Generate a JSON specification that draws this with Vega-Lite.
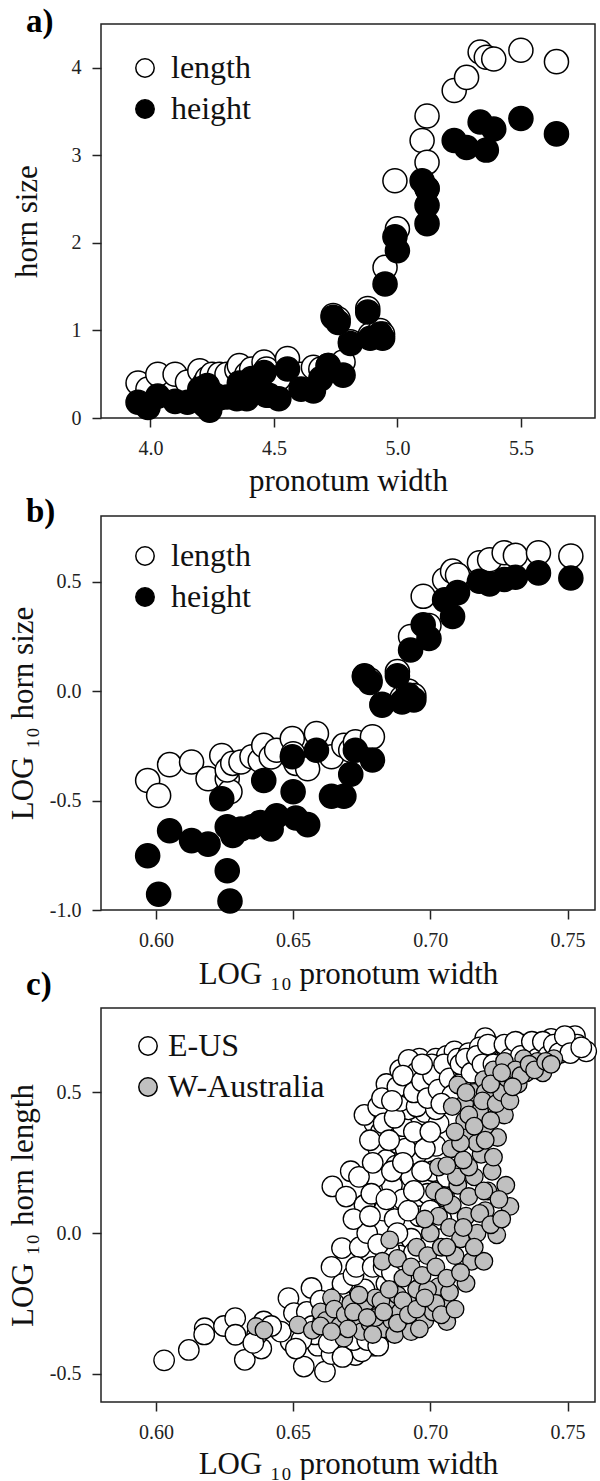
{
"$schema": "https://vega.github.io/schema/vega-lite/v6.json",
"padding": {"left": 6, "top": 5, "right": 0, "bottom": 0},
"background": "white",
"bounds": "flush",
"spacing": 98,
"config": {
  "font": "Liberation Serif",
  "view": {"stroke": "#222", "strokeWidth": 1.5},
  "axis": {"grid": false, "domain": false, "tickColor": "#222", "tickWidth": 1.5, "tickSize": 9, "labelFontSize": 20, "labelColor": "#222", "labelPadding": 11, "titleFontSize": 31, "titleFontWeight": "normal", "titleColor": "#111", "labelFont": "Liberation Serif", "titleFont": "Liberation Serif", "labelExpr": "replace(datum.label, '−', '-')"},
  "legend": {"orient": "none", "title": null, "labelFontSize": 32, "labelFont": "Liberation Serif", "labelColor": "#111", "symbolSize": 340, "symbolStrokeWidth": 1.5, "symbolStrokeColor": "black", "symbolType": "circle", "labelOffset": 10, "rowPadding": 9, "padding": 0},
  "title": {"fontSize": 33, "fontWeight": "bold", "anchor": "start", "frame": "group", "dx": -75, "offset": -15, "baseline": "alphabetic", "color": "black", "font": "Liberation Serif"}
},
"resolve": {"scale": {"x": "independent", "y": "independent", "fill": "independent"}, "legend": {"fill": "independent"}},
"datasets": {
  "a": [
    {"x":3.95,"y":0.40,"t":"length"},{"x":3.99,"y":0.33,"t":"length"},{"x":4.03,"y":0.50,"t":"length"},{"x":4.10,"y":0.50,"t":"length"},{"x":4.15,"y":0.41,"t":"length"},{"x":4.20,"y":0.54,"t":"length"},{"x":4.22,"y":0.40,"t":"length"},{"x":4.24,"y":0.35,"t":"length"},{"x":4.23,"y":0.45,"t":"length"},{"x":4.25,"y":0.50,"t":"length"},{"x":4.28,"y":0.50,"t":"length"},{"x":4.31,"y":0.50,"t":"length"},{"x":4.35,"y":0.55,"t":"length"},{"x":4.36,"y":0.60,"t":"length"},{"x":4.39,"y":0.50,"t":"length"},{"x":4.41,"y":0.56,"t":"length"},{"x":4.46,"y":0.64,"t":"length"},{"x":4.47,"y":0.56,"t":"length"},{"x":4.48,"y":0.47,"t":"length"},{"x":4.52,"y":0.45,"t":"length"},{"x":4.555,"y":0.68,"t":"length"},{"x":4.61,"y":0.50,"t":"length"},{"x":4.66,"y":0.58,"t":"length"},{"x":4.69,"y":0.56,"t":"length"},{"x":4.72,"y":0.60,"t":"length"},{"x":4.78,"y":0.64,"t":"length"},{"x":4.74,"y":1.17,"t":"length"},{"x":4.76,"y":1.13,"t":"length"},{"x":4.81,"y":0.87,"t":"length"},{"x":4.88,"y":1.25,"t":"length"},{"x":4.89,"y":0.95,"t":"length"},{"x":4.93,"y":1.00,"t":"length"},{"x":4.94,"y":0.96,"t":"length"},{"x":4.95,"y":1.72,"t":"length"},{"x":4.99,"y":2.71,"t":"length"},{"x":5.00,"y":2.16,"t":"length"},{"x":5.10,"y":3.17,"t":"length"},{"x":5.12,"y":3.45,"t":"length"},{"x":5.12,"y":2.92,"t":"length"},{"x":5.12,"y":2.62,"t":"length"},{"x":5.23,"y":3.74,"t":"length"},{"x":5.28,"y":3.89,"t":"length"},{"x":5.335,"y":4.18,"t":"length"},{"x":5.36,"y":4.12,"t":"length"},{"x":5.39,"y":4.10,"t":"length"},{"x":5.50,"y":4.20,"t":"length"},{"x":5.644,"y":4.07,"t":"length"},
    {"x":3.95,"y":0.18,"t":"height"},{"x":3.99,"y":0.12,"t":"height"},{"x":4.03,"y":0.25,"t":"height"},{"x":4.10,"y":0.19,"t":"height"},{"x":4.15,"y":0.18,"t":"height"},{"x":4.20,"y":0.33,"t":"height"},{"x":4.22,"y":0.15,"t":"height"},{"x":4.24,"y":0.09,"t":"height"},{"x":4.23,"y":0.37,"t":"height"},{"x":4.25,"y":0.22,"t":"height"},{"x":4.28,"y":0.23,"t":"height"},{"x":4.31,"y":0.24,"t":"height"},{"x":4.35,"y":0.22,"t":"height"},{"x":4.36,"y":0.40,"t":"height"},{"x":4.39,"y":0.22,"t":"height"},{"x":4.41,"y":0.45,"t":"height"},{"x":4.46,"y":0.52,"t":"height"},{"x":4.47,"y":0.26,"t":"height"},{"x":4.48,"y":0.26,"t":"height"},{"x":4.52,"y":0.22,"t":"height"},{"x":4.555,"y":0.56,"t":"height"},{"x":4.61,"y":0.33,"t":"height"},{"x":4.66,"y":0.31,"t":"height"},{"x":4.69,"y":0.45,"t":"height"},{"x":4.72,"y":0.60,"t":"height"},{"x":4.78,"y":0.49,"t":"height"},{"x":4.74,"y":1.15,"t":"height"},{"x":4.76,"y":1.09,"t":"height"},{"x":4.81,"y":0.85,"t":"height"},{"x":4.88,"y":1.21,"t":"height"},{"x":4.89,"y":0.91,"t":"height"},{"x":4.93,"y":0.96,"t":"height"},{"x":4.94,"y":0.91,"t":"height"},{"x":4.95,"y":1.53,"t":"height"},{"x":4.99,"y":2.07,"t":"height"},{"x":5.00,"y":1.91,"t":"height"},{"x":5.10,"y":2.71,"t":"height"},{"x":5.12,"y":2.62,"t":"height"},{"x":5.12,"y":2.43,"t":"height"},{"x":5.12,"y":2.22,"t":"height"},{"x":5.23,"y":3.17,"t":"height"},{"x":5.28,"y":3.09,"t":"height"},{"x":5.335,"y":3.38,"t":"height"},{"x":5.36,"y":3.06,"t":"height"},{"x":5.39,"y":3.30,"t":"height"},{"x":5.50,"y":3.42,"t":"height"},{"x":5.644,"y":3.245,"t":"height"}
  ],
  "b": [
    {"x":0.597,"y":-0.408,"t":"length"},{"x":0.601,"y":-0.477,"t":"length"},{"x":0.605,"y":-0.336,"t":"length"},{"x":0.613,"y":-0.324,"t":"length"},{"x":0.619,"y":-0.400,"t":"length"},{"x":0.624,"y":-0.294,"t":"length"},{"x":0.626,"y":-0.400,"t":"length"},{"x":0.627,"y":-0.46,"t":"length"},{"x":0.626,"y":-0.36,"t":"length"},{"x":0.628,"y":-0.33,"t":"length"},{"x":0.631,"y":-0.324,"t":"length"},{"x":0.635,"y":-0.30,"t":"length"},{"x":0.638,"y":-0.317,"t":"length"},{"x":0.6393,"y":-0.248,"t":"length"},{"x":0.642,"y":-0.301,"t":"length"},{"x":0.644,"y":-0.27,"t":"length"},{"x":0.6497,"y":-0.217,"t":"length"},{"x":0.650,"y":-0.286,"t":"length"},{"x":0.651,"y":-0.33,"t":"length"},{"x":0.6553,"y":-0.355,"t":"length"},{"x":0.6585,"y":-0.194,"t":"length"},{"x":0.664,"y":-0.30,"t":"length"},{"x":0.6685,"y":-0.248,"t":"length"},{"x":0.671,"y":-0.27,"t":"length"},{"x":0.6727,"y":-0.232,"t":"length"},{"x":0.6789,"y":-0.209,"t":"length"},{"x":0.676,"y":0.07,"t":"length"},{"x":0.678,"y":0.05,"t":"length"},{"x":0.6824,"y":-0.06,"t":"length"},{"x":0.688,"y":0.089,"t":"length"},{"x":0.6897,"y":-0.03,"t":"length"},{"x":0.692,"y":0.0,"t":"length"},{"x":0.694,"y":-0.02,"t":"length"},{"x":0.6928,"y":0.249,"t":"length"},{"x":0.6974,"y":0.433,"t":"length"},{"x":0.6995,"y":0.30,"t":"length"},{"x":0.7052,"y":0.509,"t":"length"},{"x":0.7081,"y":0.548,"t":"length"},{"x":0.7099,"y":0.53,"t":"length"},{"x":0.7179,"y":0.586,"t":"length"},{"x":0.7216,"y":0.60,"t":"length"},{"x":0.7269,"y":0.632,"t":"length"},{"x":0.731,"y":0.62,"t":"length"},{"x":0.7394,"y":0.632,"t":"length"},{"x":0.7512,"y":0.617,"t":"length"},
    {"x":0.597,"y":-0.752,"t":"height"},{"x":0.601,"y":-0.928,"t":"height"},{"x":0.605,"y":-0.638,"t":"height"},{"x":0.613,"y":-0.683,"t":"height"},{"x":0.619,"y":-0.699,"t":"height"},{"x":0.624,"y":-0.492,"t":"height"},{"x":0.626,"y":-0.821,"t":"height"},{"x":0.627,"y":-0.959,"t":"height"},{"x":0.626,"y":-0.62,"t":"height"},{"x":0.628,"y":-0.66,"t":"height"},{"x":0.631,"y":-0.63,"t":"height"},{"x":0.635,"y":-0.62,"t":"height"},{"x":0.638,"y":-0.60,"t":"height"},{"x":0.6393,"y":-0.408,"t":"height"},{"x":0.642,"y":-0.63,"t":"height"},{"x":0.644,"y":-0.57,"t":"height"},{"x":0.6497,"y":-0.30,"t":"height"},{"x":0.650,"y":-0.46,"t":"height"},{"x":0.651,"y":-0.58,"t":"height"},{"x":0.6553,"y":-0.61,"t":"height"},{"x":0.6585,"y":-0.27,"t":"height"},{"x":0.664,"y":-0.48,"t":"height"},{"x":0.6685,"y":-0.48,"t":"height"},{"x":0.671,"y":-0.38,"t":"height"},{"x":0.6727,"y":-0.27,"t":"height"},{"x":0.6789,"y":-0.315,"t":"height"},{"x":0.676,"y":0.066,"t":"height"},{"x":0.678,"y":0.04,"t":"height"},{"x":0.6824,"y":-0.064,"t":"height"},{"x":0.688,"y":0.07,"t":"height"},{"x":0.6897,"y":-0.05,"t":"height"},{"x":0.692,"y":-0.018,"t":"height"},{"x":0.694,"y":-0.04,"t":"height"},{"x":0.6928,"y":0.188,"t":"height"},{"x":0.6974,"y":0.303,"t":"height"},{"x":0.6995,"y":0.24,"t":"height"},{"x":0.7052,"y":0.417,"t":"height"},{"x":0.7081,"y":0.341,"t":"height"},{"x":0.7099,"y":0.45,"t":"height"},{"x":0.7179,"y":0.502,"t":"height"},{"x":0.7216,"y":0.49,"t":"height"},{"x":0.7269,"y":0.51,"t":"height"},{"x":0.731,"y":0.52,"t":"height"},{"x":0.7394,"y":0.54,"t":"height"},{"x":0.7512,"y":0.517,"t":"height"}
  ],
  "c": [
    {"x":0.603,"y":-0.452,"r":"E-US"},{"x":0.612,"y":-0.415,"r":"E-US"},{"x":0.6178,"y":-0.338,"r":"E-US"},{"x":0.6176,"y":-0.36,"r":"E-US"},{"x":0.6248,"y":-0.33,"r":"E-US"},{"x":0.6289,"y":-0.302,"r":"E-US"},{"x":0.629,"y":-0.361,"r":"E-US"},{"x":0.6324,"y":-0.45,"r":"E-US"},{"x":0.6384,"y":-0.41,"r":"E-US"},{"x":0.6393,"y":-0.314,"r":"E-US"},{"x":0.6369,"y":-0.36,"r":"E-US"},{"x":0.6355,"y":-0.39,"r":"E-US"},{"x":0.6483,"y":-0.231,"r":"E-US"},{"x":0.6503,"y":-0.284,"r":"E-US"},{"x":0.6491,"y":-0.385,"r":"E-US"},{"x":0.6455,"y":-0.35,"r":"E-US"},{"x":0.642,"y":-0.33,"r":"E-US"},
    {"x":0.6539,"y":-0.474,"r":"E-US"},{"x":0.6616,"y":-0.492,"r":"E-US"},{"x":0.6567,"y":-0.195,"r":"E-US"},{"x":0.659,"y":-0.40,"r":"E-US"},{"x":0.6727,"y":-0.433,"r":"E-US"},{"x":0.6791,"y":-0.40,"r":"E-US"},{"x":0.655,"y":-0.28,"r":"E-US"},{"x":0.657,"y":-0.33,"r":"E-US"},{"x":0.66,"y":-0.24,"r":"E-US"},{"x":0.662,"y":-0.36,"r":"E-US"},{"x":0.665,"y":-0.30,"r":"E-US"},{"x":0.667,"y":-0.22,"r":"E-US"},{"x":0.669,"y":-0.39,"r":"E-US"},{"x":0.671,"y":-0.27,"r":"E-US"},{"x":0.674,"y":-0.35,"r":"E-US"},{"x":0.676,"y":-0.20,"r":"E-US"},{"x":0.678,"y":-0.30,"r":"E-US"},{"x":0.68,"y":-0.25,"r":"E-US"},{"x":0.682,"y":-0.36,"r":"E-US"},{"x":0.684,"y":-0.18,"r":"E-US"},{"x":0.686,"y":-0.28,"r":"E-US"},{"x":0.688,"y":-0.22,"r":"E-US"},{"x":0.69,"y":-0.33,"r":"E-US"},{"x":0.692,"y":-0.16,"r":"E-US"},{"x":0.694,"y":-0.26,"r":"E-US"},{"x":0.696,"y":-0.2,"r":"E-US"},{"x":0.698,"y":-0.29,"r":"E-US"},{"x":0.7,"y":-0.14,"r":"E-US"},{"x":0.67,"y":-0.41,"r":"E-US"},{"x":0.675,"y":-0.42,"r":"E-US"},{"x":0.664,"y":-0.43,"r":"E-US"},{"x":0.668,"y":-0.18,"r":"E-US"},{"x":0.672,"y":-0.15,"r":"E-US"},
    {"x":0.665,"y":-0.25,"r":"E-US"},{"x":0.661,"y":-0.31,"r":"E-US"},{"x":0.658,"y":-0.36,"r":"E-US"},{"x":0.653,"y":-0.38,"r":"E-US"},{"x":0.651,"y":-0.41,"r":"E-US"},{"x":0.663,"y":-0.39,"r":"E-US"},{"x":0.668,"y":-0.44,"r":"E-US"},{"x":0.672,"y":-0.38,"r":"E-US"},{"x":0.677,"y":-0.38,"r":"E-US"},{"x":0.681,"y":-0.4,"r":"E-US"},{"x":0.685,"y":-0.34,"r":"E-US"},
    {"x":0.6678,"y":-0.053,"r":"E-US"},{"x":0.664,"y":-0.12,"r":"E-US"},{"x":0.6825,"y":0.012,"r":"E-US"},{"x":0.6743,"y":-0.05,"r":"E-US"},{"x":0.673,"y":-0.12,"r":"E-US"},{"x":0.679,"y":-0.12,"r":"E-US"},{"x":0.6643,"y":0.166,"r":"E-US"},{"x":0.6693,"y":0.13,"r":"E-US"},{"x":0.6796,"y":0.391,"r":"E-US"},{"x":0.681,"y":0.302,"r":"E-US"},{"x":0.6857,"y":0.44,"r":"E-US"},{"x":0.677,"y":0.0,"r":"E-US"},{"x":0.683,"y":0.08,"r":"E-US"},{"x":0.686,"y":0.17,"r":"E-US"},{"x":0.68,"y":0.2,"r":"E-US"},{"x":0.684,"y":0.26,"r":"E-US"},{"x":0.688,"y":0.32,"r":"E-US"},{"x":0.69,"y":0.38,"r":"E-US"},{"x":0.692,"y":0.44,"r":"E-US"},{"x":0.687,"y":0.05,"r":"E-US"},{"x":0.69,"y":0.12,"r":"E-US"},{"x":0.693,"y":0.2,"r":"E-US"},{"x":0.695,"y":0.28,"r":"E-US"},{"x":0.696,"y":0.35,"r":"E-US"},{"x":0.698,"y":0.43,"r":"E-US"},{"x":0.689,"y":-0.08,"r":"E-US"},{"x":0.693,"y":-0.02,"r":"E-US"},{"x":0.696,"y":0.06,"r":"E-US"},{"x":0.699,"y":0.14,"r":"E-US"},{"x":0.701,"y":0.22,"r":"E-US"},{"x":0.702,"y":0.31,"r":"E-US"},{"x":0.703,"y":0.39,"r":"E-US"},{"x":0.685,"y":-0.06,"r":"E-US"},{"x":0.676,"y":0.1,"r":"E-US"},{"x":0.672,"y":0.05,"r":"E-US"},{"x":0.671,"y":0.22,"r":"E-US"},{"x":0.6785,"y":0.14,"r":"E-US"},{"x":0.682,"y":0.36,"r":"E-US"},{"x":0.6875,"y":0.24,"r":"E-US"},{"x":0.691,"y":0.3,"r":"E-US"},{"x":0.697,"y":-0.1,"r":"E-US"},{"x":0.7,"y":-0.04,"r":"E-US"},{"x":0.704,"y":0.05,"r":"E-US"},{"x":0.705,"y":0.13,"r":"E-US"},{"x":0.706,"y":0.2,"r":"E-US"},
    {"x":0.684,"y":0.12,"r":"E-US"},{"x":0.686,"y":0.22,"r":"E-US"},{"x":0.688,"y":0.0,"r":"E-US"},{"x":0.69,"y":0.25,"r":"E-US"},{"x":0.692,"y":0.08,"r":"E-US"},{"x":0.694,"y":0.15,"r":"E-US"},{"x":0.697,"y":0.22,"r":"E-US"},{"x":0.698,"y":0.3,"r":"E-US"},{"x":0.7,"y":0.08,"r":"E-US"},{"x":0.674,"y":0.2,"r":"E-US"},{"x":0.678,"y":0.06,"r":"E-US"},{"x":0.681,"y":-0.04,"r":"E-US"},{"x":0.683,"y":-0.12,"r":"E-US"},{"x":0.686,"y":-0.14,"r":"E-US"},{"x":0.689,"y":-0.2,"r":"E-US"},{"x":0.691,"y":-0.1,"r":"E-US"},{"x":0.694,"y":-0.07,"r":"E-US"},
    {"x":0.676,"y":0.42,"r":"E-US"},{"x":0.678,"y":0.33,"r":"E-US"},{"x":0.679,"y":0.25,"r":"E-US"},{"x":0.681,"y":0.45,"r":"E-US"},{"x":0.683,"y":0.39,"r":"E-US"},{"x":0.684,"y":0.53,"r":"E-US"},{"x":0.685,"y":0.33,"r":"E-US"},{"x":0.687,"y":0.41,"r":"E-US"},{"x":0.689,"y":0.47,"r":"E-US"},{"x":0.689,"y":0.58,"r":"E-US"},{"x":0.691,"y":0.52,"r":"E-US"},{"x":0.693,"y":0.56,"r":"E-US"},{"x":0.694,"y":0.36,"r":"E-US"},{"x":0.695,"y":0.45,"r":"E-US"},{"x":0.696,"y":0.62,"r":"E-US"},{"x":0.698,"y":0.56,"r":"E-US"},{"x":0.7,"y":0.5,"r":"E-US"},{"x":0.7,"y":0.36,"r":"E-US"},{"x":0.702,"y":0.44,"r":"E-US"},{"x":0.702,"y":0.62,"r":"E-US"},{"x":0.704,"y":0.57,"r":"E-US"},{"x":0.706,"y":0.63,"r":"E-US"},{"x":0.706,"y":0.52,"r":"E-US"},{"x":0.708,"y":0.59,"r":"E-US"},{"x":0.709,"y":0.55,"r":"E-US"},
    {"x":0.6824,"y":0.48,"r":"E-US"},{"x":0.6921,"y":0.616,"r":"E-US"},{"x":0.695,"y":0.57,"r":"E-US"},{"x":0.7005,"y":0.6,"r":"E-US"},{"x":0.7088,"y":0.646,"r":"E-US"},{"x":0.72,"y":0.693,"r":"E-US"},{"x":0.734,"y":0.67,"r":"E-US"},{"x":0.744,"y":0.69,"r":"E-US"},{"x":0.7527,"y":0.70,"r":"E-US"},{"x":0.7568,"y":0.646,"r":"E-US"},{"x":0.688,"y":0.52,"r":"E-US"},{"x":0.69,"y":0.56,"r":"E-US"},{"x":0.694,"y":0.5,"r":"E-US"},{"x":0.697,"y":0.54,"r":"E-US"},{"x":0.699,"y":0.48,"r":"E-US"},{"x":0.701,"y":0.56,"r":"E-US"},{"x":0.703,"y":0.51,"r":"E-US"},{"x":0.705,"y":0.6,"r":"E-US"},{"x":0.707,"y":0.55,"r":"E-US"},{"x":0.71,"y":0.62,"r":"E-US"},{"x":0.712,"y":0.58,"r":"E-US"},{"x":0.714,"y":0.64,"r":"E-US"},{"x":0.716,"y":0.6,"r":"E-US"},{"x":0.718,"y":0.66,"r":"E-US"},{"x":0.722,"y":0.63,"r":"E-US"},{"x":0.724,"y":0.66,"r":"E-US"},{"x":0.726,"y":0.61,"r":"E-US"},{"x":0.728,"y":0.65,"r":"E-US"},{"x":0.73,"y":0.63,"r":"E-US"},{"x":0.732,"y":0.66,"r":"E-US"},{"x":0.736,"y":0.64,"r":"E-US"},{"x":0.738,"y":0.66,"r":"E-US"},{"x":0.74,"y":0.63,"r":"E-US"},{"x":0.742,"y":0.66,"r":"E-US"},{"x":0.746,"y":0.65,"r":"E-US"},{"x":0.748,"y":0.68,"r":"E-US"},{"x":0.75,"y":0.66,"r":"E-US"},{"x":0.7535,"y":0.67,"r":"E-US"},{"x":0.708,"y":0.49,"r":"E-US"},{"x":0.704,"y":0.46,"r":"E-US"},{"x":0.711,"y":0.53,"r":"E-US"},{"x":0.686,"y":0.47,"r":"E-US"},{"x":0.697,"y":0.6,"r":"E-US"},{"x":0.72,"y":0.56,"r":"E-US"},{"x":0.725,"y":0.58,"r":"E-US"},{"x":0.73,"y":0.59,"r":"E-US"},{"x":0.735,"y":0.6,"r":"E-US"},
    {"x":0.711,"y":0.6,"r":"E-US"},{"x":0.713,"y":0.62,"r":"E-US"},{"x":0.715,"y":0.57,"r":"E-US"},{"x":0.717,"y":0.63,"r":"E-US"},{"x":0.719,"y":0.6,"r":"E-US"},{"x":0.721,"y":0.67,"r":"E-US"},{"x":0.723,"y":0.6,"r":"E-US"},{"x":0.727,"y":0.67,"r":"E-US"},{"x":0.729,"y":0.62,"r":"E-US"},{"x":0.731,"y":0.68,"r":"E-US"},{"x":0.733,"y":0.63,"r":"E-US"},{"x":0.737,"y":0.68,"r":"E-US"},{"x":0.739,"y":0.62,"r":"E-US"},{"x":0.741,"y":0.68,"r":"E-US"},{"x":0.743,"y":0.63,"r":"E-US"},{"x":0.745,"y":0.67,"r":"E-US"},{"x":0.747,"y":0.64,"r":"E-US"},{"x":0.749,"y":0.7,"r":"E-US"},{"x":0.751,"y":0.64,"r":"E-US"},{"x":0.755,"y":0.66,"r":"E-US"},
    {"x":0.6365,"y":-0.332,"r":"W-Australia"},{"x":0.6394,"y":-0.345,"r":"W-Australia"},{"x":0.6518,"y":-0.326,"r":"W-Australia"},{"x":0.657,"y":-0.345,"r":"W-Australia"},{"x":0.664,"y":-0.23,"r":"W-Australia"},{"x":0.66,"y":-0.28,"r":"W-Australia"},{"x":0.6685,"y":-0.373,"r":"W-Australia"},
    {"x":0.662,"y":-0.31,"r":"W-Australia"},{"x":0.665,"y":-0.27,"r":"W-Australia"},{"x":0.667,"y":-0.33,"r":"W-Australia"},{"x":0.669,"y":-0.29,"r":"W-Australia"},{"x":0.671,"y":-0.25,"r":"W-Australia"},{"x":0.673,"y":-0.31,"r":"W-Australia"},{"x":0.675,"y":-0.35,"r":"W-Australia"},{"x":0.676,"y":-0.27,"r":"W-Australia"},{"x":0.678,"y":-0.32,"r":"W-Australia"},{"x":0.68,"y":-0.23,"r":"W-Australia"},{"x":0.681,"y":-0.29,"r":"W-Australia"},{"x":0.683,"y":-0.34,"r":"W-Australia"},{"x":0.684,"y":-0.26,"r":"W-Australia"},{"x":0.686,"y":-0.31,"r":"W-Australia"},{"x":0.688,"y":-0.22,"r":"W-Australia"},{"x":0.689,"y":-0.28,"r":"W-Australia"},{"x":0.691,"y":-0.33,"r":"W-Australia"},{"x":0.692,"y":-0.25,"r":"W-Australia"},{"x":0.694,"y":-0.3,"r":"W-Australia"},{"x":0.695,"y":-0.2,"r":"W-Australia"},{"x":0.697,"y":-0.26,"r":"W-Australia"},{"x":0.698,"y":-0.31,"r":"W-Australia"},{"x":0.7,"y":-0.23,"r":"W-Australia"},{"x":0.701,"y":-0.28,"r":"W-Australia"},{"x":0.703,"y":-0.19,"r":"W-Australia"},{"x":0.705,"y":-0.25,"r":"W-Australia"},{"x":0.706,"y":-0.314,"r":"W-Australia"},{"x":0.674,"y":-0.22,"r":"W-Australia"},{"x":0.679,"y":-0.36,"r":"W-Australia"},{"x":0.687,"y":-0.36,"r":"W-Australia"},{"x":0.693,"y":-0.35,"r":"W-Australia"},{"x":0.67,"y":-0.34,"r":"W-Australia"},
    {"x":0.68,"y":-0.3,"r":"W-Australia"},{"x":0.682,"y":-0.24,"r":"W-Australia"},{"x":0.685,"y":-0.2,"r":"W-Australia"},{"x":0.69,"y":-0.24,"r":"W-Australia"},{"x":0.696,"y":-0.34,"r":"W-Australia"},{"x":0.699,"y":-0.2,"r":"W-Australia"},{"x":0.702,"y":-0.25,"r":"W-Australia"},{"x":0.704,"y":-0.29,"r":"W-Australia"},{"x":0.707,"y":-0.21,"r":"W-Australia"},{"x":0.709,"y":-0.27,"r":"W-Australia"},{"x":0.66,"y":-0.33,"r":"W-Australia"},{"x":0.664,"y":-0.35,"r":"W-Australia"},{"x":0.672,"y":-0.28,"r":"W-Australia"},{"x":0.677,"y":-0.3,"r":"W-Australia"},{"x":0.683,"y":-0.28,"r":"W-Australia"},{"x":0.688,"y":-0.32,"r":"W-Australia"},{"x":0.692,"y":-0.29,"r":"W-Australia"},{"x":0.695,"y":-0.27,"r":"W-Australia"},{"x":0.698,"y":-0.23,"r":"W-Australia"},
    {"x":0.6852,"y":-0.024,"r":"W-Australia"},{"x":0.6825,"y":-0.1,"r":"W-Australia"},{"x":0.688,"y":-0.09,"r":"W-Australia"},{"x":0.69,"y":-0.16,"r":"W-Australia"},{"x":0.693,"y":-0.12,"r":"W-Australia"},{"x":0.695,"y":-0.05,"r":"W-Australia"},{"x":0.697,"y":-0.15,"r":"W-Australia"},{"x":0.699,"y":-0.08,"r":"W-Australia"},{"x":0.7,"y":0.0,"r":"W-Australia"},{"x":0.702,"y":-0.12,"r":"W-Australia"},{"x":0.703,"y":0.06,"r":"W-Australia"},{"x":0.704,"y":-0.05,"r":"W-Australia"},{"x":0.706,"y":-0.16,"r":"W-Australia"},{"x":0.707,"y":0.02,"r":"W-Australia"},{"x":0.708,"y":0.1,"r":"W-Australia"},{"x":0.709,"y":-0.08,"r":"W-Australia"},{"x":0.71,"y":0.17,"r":"W-Australia"},{"x":0.711,"y":-0.02,"r":"W-Australia"},{"x":0.713,"y":-0.178,"r":"W-Australia"},{"x":0.713,"y":0.06,"r":"W-Australia"},{"x":0.714,"y":0.13,"r":"W-Australia"},{"x":0.715,"y":-0.1,"r":"W-Australia"},{"x":0.716,"y":0.2,"r":"W-Australia"},{"x":0.717,"y":0.0,"r":"W-Australia"},{"x":0.7195,"y":-0.1,"r":"W-Australia"},{"x":0.72,"y":0.08,"r":"W-Australia"},{"x":0.721,"y":0.15,"r":"W-Australia"},{"x":0.7242,"y":-0.006,"r":"W-Australia"},{"x":0.729,"y":0.095,"r":"W-Australia"},{"x":0.7275,"y":0.17,"r":"W-Australia"},{"x":0.7195,"y":0.15,"r":"W-Australia"},{"x":0.7015,"y":0.15,"r":"W-Australia"},{"x":0.703,"y":0.235,"r":"W-Australia"},{"x":0.7095,"y":0.2,"r":"W-Australia"},{"x":0.714,"y":0.235,"r":"W-Australia"},{"x":0.7225,"y":0.22,"r":"W-Australia"},{"x":0.7075,"y":0.3,"r":"W-Australia"},{"x":0.7185,"y":0.28,"r":"W-Australia"},{"x":0.7145,"y":0.35,"r":"W-Australia"},{"x":0.7245,"y":0.34,"r":"W-Australia"},{"x":0.7125,"y":0.4,"r":"W-Australia"},{"x":0.727,"y":0.42,"r":"W-Australia"},{"x":0.7125,"y":0.46,"r":"W-Australia"},{"x":0.7215,"y":0.46,"r":"W-Australia"},{"x":0.71,"y":0.527,"r":"W-Australia"},{"x":0.716,"y":0.5,"r":"W-Australia"},{"x":0.7195,"y":0.545,"r":"W-Australia"},{"x":0.723,"y":0.58,"r":"W-Australia"},{"x":0.727,"y":0.61,"r":"W-Australia"},{"x":0.734,"y":0.62,"r":"W-Australia"},{"x":0.74,"y":0.6,"r":"W-Australia"},{"x":0.725,"y":0.52,"r":"W-Australia"},{"x":0.712,"y":0.26,"r":"W-Australia"},{"x":0.717,"y":0.32,"r":"W-Australia"},{"x":0.72,"y":0.38,"r":"W-Australia"},{"x":0.723,"y":0.27,"r":"W-Australia"},{"x":0.718,"y":0.43,"r":"W-Australia"},{"x":0.705,"y":0.13,"r":"W-Australia"},{"x":0.698,"y":0.05,"r":"W-Australia"},{"x":0.72,"y":0.5,"r":"W-Australia"},
    {"x":0.706,"y":-0.05,"r":"W-Australia"},{"x":0.711,"y":-0.14,"r":"W-Australia"},{"x":0.712,"y":0.02,"r":"W-Australia"},{"x":0.716,"y":-0.05,"r":"W-Australia"},{"x":0.718,"y":0.07,"r":"W-Australia"},{"x":0.722,"y":0.03,"r":"W-Australia"},{"x":0.726,"y":0.05,"r":"W-Australia"},{"x":0.725,"y":0.12,"r":"W-Australia"},{"x":0.711,"y":0.32,"r":"W-Australia"},{"x":0.714,"y":0.42,"r":"W-Australia"},{"x":0.716,"y":0.38,"r":"W-Australia"},{"x":0.719,"y":0.47,"r":"W-Australia"},{"x":0.722,"y":0.4,"r":"W-Australia"},{"x":0.724,"y":0.46,"r":"W-Australia"},{"x":0.726,"y":0.5,"r":"W-Australia"},{"x":0.729,"y":0.47,"r":"W-Australia"},{"x":0.732,"y":0.53,"r":"W-Australia"},{"x":0.735,"y":0.57,"r":"W-Australia"},{"x":0.739,"y":0.61,"r":"W-Australia"},{"x":0.741,"y":0.57,"r":"W-Australia"},{"x":0.745,"y":0.62,"r":"W-Australia"},{"x":0.72,"y":0.33,"r":"W-Australia"},{"x":0.706,"y":0.24,"r":"W-Australia"},{"x":0.709,"y":0.36,"r":"W-Australia"},{"x":0.713,"y":0.5,"r":"W-Australia"},{"x":0.708,"y":0.45,"r":"W-Australia"},
    {"x":0.728,"y":0.55,"r":"W-Australia"},{"x":0.731,"y":0.58,"r":"W-Australia"},{"x":0.733,"y":0.56,"r":"W-Australia"},{"x":0.736,"y":0.6,"r":"W-Australia"},{"x":0.738,"y":0.58,"r":"W-Australia"},{"x":0.742,"y":0.61,"r":"W-Australia"},{"x":0.744,"y":0.6,"r":"W-Australia"},{"x":0.73,"y":0.52,"r":"W-Australia"},{"x":0.722,"y":0.53,"r":"W-Australia"},{"x":0.726,"y":0.57,"r":"W-Australia"}
  ]
},
"vconcat": [
  {
    "width": 494, "height": 394,
    "title": {"text": "a)", "offset": -15},
    "data": {"name": "a"},
    "mark": {"type": "point", "filled": true, "shape": "circle", "size": 580, "stroke": "black", "strokeWidth": 1.5, "opacity": 1},
    "encoding": {
      "x": {"field": "x", "type": "quantitative", "scale": {"domain": [3.8, 5.8], "nice": false, "zero": false}, "axis": {"values": [4, 4.5, 5, 5.5], "format": ".1f", "title": "pronotum width", "titlePadding": 8}},
      "y": {"field": "y", "type": "quantitative", "scale": {"domain": [0, 4.5], "nice": false}, "axis": {"values": [0, 1, 2, 3, 4], "format": "d", "title": "horn size", "titlePadding": 28}},
      "fill": {"field": "t", "type": "nominal", "scale": {"domain": ["length", "height"], "range": ["white", "black"]}, "legend": {"legendX": 28, "legendY": 28}}
    }
  },
  {
    "width": 494, "height": 394,
    "title": {"text": "b)", "offset": -13},
    "data": {"name": "b"},
    "mark": {"type": "point", "filled": true, "shape": "circle", "size": 580, "stroke": "black", "strokeWidth": 1.5, "opacity": 1},
    "encoding": {
      "x": {"field": "x", "type": "quantitative", "scale": {"domain": [0.58, 0.76], "nice": false, "zero": false}, "axis": {"values": [0.6, 0.65, 0.7, 0.75], "format": ".2f", "title": "LOG ₁₀ pronotum width", "titlePadding": 9}},
      "y": {"field": "y", "type": "quantitative", "scale": {"domain": [-1.0, 0.8], "nice": false, "zero": false}, "axis": {"values": [-1, -0.5, 0, 0.5], "format": ".1f", "title": "LOG ₁₀ horn size", "titlePadding": 10}},
      "fill": {"field": "t", "type": "nominal", "scale": {"domain": ["length", "height"], "range": ["white", "black"]}, "legend": {"legendX": 28, "legendY": 24}}
    }
  },
  {
    "width": 494, "height": 394,
    "title": {"text": "c)", "offset": 6},
    "data": {"name": "c"},
    "encoding": {
      "x": {"field": "x", "type": "quantitative", "scale": {"domain": [0.58, 0.76], "nice": false, "zero": false}, "axis": {"values": [0.6, 0.65, 0.7, 0.75], "format": ".2f", "title": "LOG ₁₀ pronotum width", "titlePadding": 7}},
      "y": {"field": "y", "type": "quantitative", "scale": {"domain": [-0.6, 0.8], "nice": false, "zero": false}, "axis": {"values": [-0.5, 0, 0.5], "format": ".1f", "title": "LOG ₁₀ horn length", "titlePadding": 10}},
      "fill": {"field": "r", "type": "nominal", "scale": {"domain": ["E-US", "W-Australia"], "range": ["white", "#c0c0c0"]}, "legend": {"legendX": 31, "legendY": 22, "labelOffset": 4, "symbolFillColor": "#8c8c8c"}}
    },
    "layer": [
      {"transform": [{"filter": "datum.r === 'E-US'"}], "mark": {"type": "point", "filled": true, "shape": "circle", "size": 420, "stroke": "black", "strokeWidth": 1.3, "opacity": 1}},
      {"transform": [{"filter": "datum.r === 'W-Australia'"}], "mark": {"type": "point", "filled": true, "shape": "circle", "size": 310, "stroke": "black", "strokeWidth": 1.3, "opacity": 1}}
    ]
  }
]
}
